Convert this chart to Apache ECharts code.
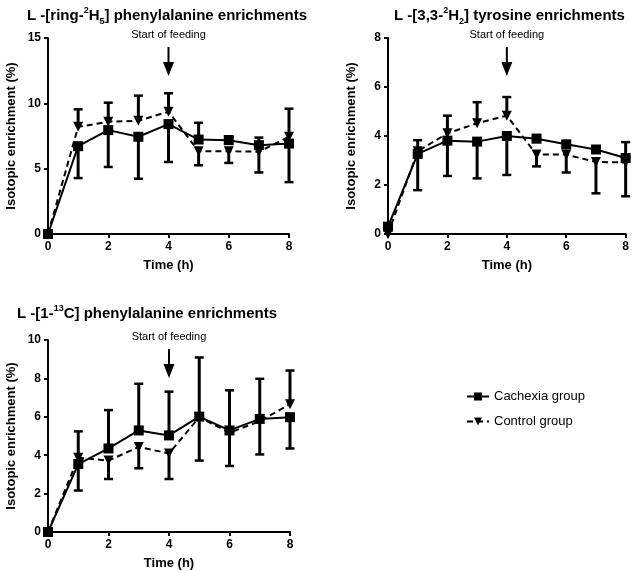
<!DOCTYPE html>
<html><head><meta charset="utf-8">
<script src="https://cdn.jsdelivr.net/npm/echarts@6/dist/echarts.min.js"></script>
<style>html,body{margin:0;padding:0;background:#fff}#c{width:632px;height:571px}</style>
</head><body><div id="c"></div>
<script>
// ---- data ----
const timeH = [0, 1, 2, 3, 4, 5, 6, 7, 8];
const xTicks = [0, 2, 4, 6, 8];
const feedingTime = 4;
const seriesNames = ['Cachexia group', 'Control group'];

// Panel A: L-[ring-2H5] phenylalanine
const pheD5Cachexia    = [0, 6.72, 7.95, 7.44, 8.41, 7.23, 7.18, 6.80, 6.92];
const pheD5CachexiaErr = [0, 2.44, 2.82, 3.21, 2.90, 1.28, 0.30, 0.58, 2.95];
const pheD5Control     = [0, 8.20, 8.59, 8.67, 9.36, 6.33, 6.33, 6.30, 7.44];
const pheD5ControlErr  = [0, 1.34, 1.46, 1.92, 1.41, 1.07, 0.89, 1.59, 2.15];
const pheD5YTicks = [0, 5, 10, 15];

// Panel B: L-[3,3-2H2] tyrosine
const tyrD2Cachexia    = [0.30, 3.27, 3.81, 3.77, 4.00, 3.89, 3.66, 3.45, 3.10];
const tyrD2CachexiaErr = [0, 1.48, 1.44, 1.50, 1.59, 0.15, 0.10, 0.10, 0.65];
const tyrD2Control     = [0.00, 3.38, 4.11, 4.52, 4.83, 3.24, 3.24, 2.94, 2.92];
const tyrD2ControlErr  = [0, 0.45, 0.72, 0.86, 0.76, 0.48, 0.73, 1.28, 1.38];
const tyrD2YTicks = [0, 2, 4, 6, 8];

// Panel C: L-[1-13C] phenylalanine
const phe13CCachexia    = [0, 3.54, 4.35, 5.29, 5.03, 6.01, 5.29, 5.89, 5.98];
const phe13CCachexiaErr = [0, 1.38, 2.00, 2.43, 2.28, 3.08, 2.09, 2.09, 1.63];
const phe13CControl     = [0, 3.87, 3.72, 4.43, 4.09, 5.98, 5.17, 5.77, 6.66];
const phe13CControlErr  = [0, 1.37, 0.96, 1.11, 1.33, 2.26, 1.73, 1.73, 1.75];
const phe13CYTicks = [0, 2, 4, 6, 8, 10];

// ---- chart ----
const FONT = '"Liberation Sans", Arial, Helvetica, sans-serif';
const chart = echarts.init(document.getElementById('c'), null, {renderer: 'canvas'});

const panels = [
  {cach: pheD5Cachexia, cachErr: pheD5CachexiaErr, ctrl: pheD5Control, ctrlErr: pheD5ControlErr, yTicks: pheD5YTicks,
   grid: {left: 48, top: 38, width: 241, height: 196},
   title: '{a|L -[ring-}{sup|2}{a|H}{sub|5}{a|] phenylalanine enrichments}', titlePos: {left: 27, top: 6}},
  {cach: tyrD2Cachexia, cachErr: tyrD2CachexiaErr, ctrl: tyrD2Control, ctrlErr: tyrD2ControlErr, yTicks: tyrD2YTicks,
   grid: {left: 388, top: 38, width: 239, height: 196},
   title: '{a|L -[3,3-}{sup|2}{a|H}{sub|2}{a|] tyrosine enrichments}', titlePos: {left: 394, top: 6}},
  {cach: phe13CCachexia, cachErr: phe13CCachexiaErr, ctrl: phe13CControl, ctrlErr: phe13CControlErr, yTicks: phe13CYTicks,
   grid: {left: 48, top: 340, width: 242, height: 195},
   title: '{a|L -[1-}{sup|13}{a|C] phenylalanine enrichments}', titlePos: {left: 17, top: 304}}
];

const richTitle = {
  a: {fontSize: 15, fontWeight: 'bold', fontFamily: FONT, color: '#000', lineHeight: 20},
  sup: {fontSize: 9, fontWeight: 'bold', fontFamily: FONT, color: '#000', verticalAlign: 'top', lineHeight: 20, padding: [0, 0, 8, 0]},
  sub: {fontSize: 9, fontWeight: 'bold', fontFamily: FONT, color: '#000', verticalAlign: 'bottom', lineHeight: 20, padding: [6, 0, 0, 0]}
};

function errItem(params, api) {
  const x = api.value(0), m = api.value(1), e = api.value(2), dir = api.value(3);
  if (!e) return null;
  const p0 = api.coord([x, m]);
  const p1 = api.coord([x, m + dir * e]);
  const cap = 4.5;
  return {type: 'group', children: [
    {type: 'line', shape: {x1: p0[0], y1: p0[1], x2: p1[0], y2: p1[1]}, style: {stroke: '#000', lineWidth: 3}},
    {type: 'line', shape: {x1: p1[0] - cap, y1: p1[1], x2: p1[0] + cap, y2: p1[1]}, style: {stroke: '#000', lineWidth: 2.5}}
  ]};
}

function feedItem(params, api) {
  const top = api.coord([api.value(0), api.value(1)]);
  const x = top[0], y = top[1];
  return {type: 'group', children: [
    {type: 'text', style: {text: 'Start of feeding', x: x, y: y - 3, align: 'center', verticalAlign: 'middle',
      fontSize: 11, fontFamily: FONT, fill: '#000'}},
    {type: 'line', shape: {x1: x, y1: y + 9, x2: x, y2: y + 26}, style: {stroke: '#000', lineWidth: 2}},
    {type: 'polygon', shape: {points: [[x - 5.5, y + 24], [x + 5.5, y + 24], [x, y + 38]]}, style: {fill: '#000'}}
  ]};
}

const option = {
  animation: false,
  backgroundColor: '#fff',
  title: panels.map(p => ({text: p.title, left: p.titlePos.left, top: p.titlePos.top, padding: 0,
    textStyle: {rich: richTitle}})),
  legend: {
    data: seriesNames, orient: 'vertical', left: 461, top: 385, itemGap: 12, itemWidth: 22, itemHeight: 10,
    textStyle: {fontSize: 13, fontFamily: FONT, color: '#000'}
  },
  grid: panels.map(p => Object.assign({containLabel: false}, p.grid)),
  xAxis: panels.map((p, i) => ({
    type: 'value', gridIndex: i, min: 0, max: 8, interval: 2,
    name: 'Time (h)', nameLocation: 'middle', nameGap: 25,
    nameTextStyle: {fontSize: 13, fontWeight: 'bold', fontFamily: FONT, color: '#000'},
    axisLine: {show: true, onZero: false, lineStyle: {color: '#000', width: 2}},
    axisTick: {show: true, length: 4, lineStyle: {color: '#000', width: 2}},
    axisLabel: {fontSize: 12, fontWeight: 'bold', fontFamily: FONT, color: '#000', margin: 7},
    splitLine: {show: false}
  })),
  yAxis: panels.map((p, i) => ({
    type: 'value', gridIndex: i, min: p.yTicks[0], max: p.yTicks[p.yTicks.length - 1],
    interval: p.yTicks[1] - p.yTicks[0],
    name: 'Isotopic enrichment (%)', nameLocation: 'middle', nameGap: 30,
    nameTextStyle: {fontSize: 13, fontWeight: 'bold', fontFamily: FONT, color: '#000'},
    axisLine: {show: true, lineStyle: {color: '#000', width: 2}},
    axisTick: {show: true, length: 4, lineStyle: {color: '#000', width: 2}},
    axisLabel: {fontSize: 12, fontWeight: 'bold', fontFamily: FONT, color: '#000', margin: 7},
    splitLine: {show: false}
  })),
  series: []
};

panels.forEach((p, i) => {
  const cachDir = p.cach.map((v, k) => v >= p.ctrl[k] ? 1 : -1);
  option.series.push({
    type: 'custom', xAxisIndex: i, yAxisIndex: i, renderItem: errItem, clip: false, z: 2,
    encode: {x: 0, y: 1},
    data: timeH.map((t, k) => [t, p.cach[k], p.cachErr[k], cachDir[k]])
  });
  option.series.push({
    type: 'custom', xAxisIndex: i, yAxisIndex: i, renderItem: errItem, clip: false, z: 2,
    encode: {x: 0, y: 1},
    data: timeH.map((t, k) => [t, p.ctrl[k], p.ctrlErr[k], -cachDir[k]])
  });
  option.series.push({
    name: 'Control group', type: 'line', xAxisIndex: i, yAxisIndex: i, clip: false, z: 3,
    symbol: 'triangle', symbolRotate: 180, symbolSize: 10,
    itemStyle: {color: '#000'}, lineStyle: {color: '#000', width: 2, type: [6, 4]},
    data: timeH.map((t, k) => [t, p.ctrl[k]])
  });
  option.series.push({
    name: 'Cachexia group', type: 'line', xAxisIndex: i, yAxisIndex: i, clip: false, z: 4,
    symbol: 'rect', symbolSize: 10,
    itemStyle: {color: '#000'}, lineStyle: {color: '#000', width: 2},
    data: timeH.map((t, k) => [t, p.cach[k]])
  });
  option.series.push({
    type: 'custom', xAxisIndex: i, yAxisIndex: i, renderItem: feedItem, clip: false, z: 5,
    encode: {x: 0, y: 1}, silent: true,
    data: [[feedingTime, p.yTicks[p.yTicks.length - 1]]]
  });
});

chart.setOption(option);
</script></body></html>
